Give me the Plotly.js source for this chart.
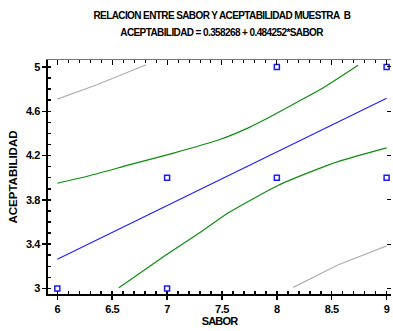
<!DOCTYPE html>
<html>
<head>
<meta charset="utf-8">
<script src="https://cdn.plot.ly/plotly-3.0.1.min.js"></script>
<style>
html,body{margin:0;padding:0;background:#fff}
#chart{width:393px;height:331px}
#chart .gtitle, #chart .annotation-text{letter-spacing:-0.6px}
#chart .xtick text, #chart .ytick text{letter-spacing:-0.5px}
#chart .xtitle{letter-spacing:-0.8px}
</style>
</head>
<body>
<div id="chart"></div>
<script>
// Observed data points
const saborPts = [6, 7, 7, 8, 8, 9, 9];
const acepPts  = [3, 3, 4, 4, 5, 5, 4];

const fitX = [6, 9];
const fitY = [3.264, 4.717];

// Confidence limits (green)
const confUpX = [6.0, 6.3, 6.67, 7.05, 7.48, 7.75, 7.94, 8.2, 8.42, 8.74];
const confUpY = [3.95, 4.02, 4.12, 4.22, 4.345, 4.455, 4.55, 4.69, 4.81, 5.015];
const confLoX = [6.56, 7.0, 7.3, 7.57, 8.01, 8.3, 8.57, 9.0];
const confLoY = [3.006, 3.31, 3.506, 3.69, 3.93, 4.05, 4.15, 4.27];

// Prediction limits (grey)
const predUpX = [6.0, 6.36, 6.81];
const predUpY = [4.71, 4.84, 5.02];
const predLoX = [8.15, 8.55, 9.0];
const predLoY = [3.01, 3.21, 3.385];

const xTicks = [6, 6.5, 7, 7.5, 8, 8.5, 9];
const yTicks = [3, 3.4, 3.8, 4.2, 4.6, 5];

const titleLine1 = 'RELACION ENTRE SABOR Y ACEPTABILIDAD MUESTRA\u00a0 B';
const titleLine2 = 'ACEPTABILIDAD = 0.358268 + 0.484252*SABOR';

const sans = 'Liberation Sans, Arial, sans-serif';
const XR = [5.915, 9.04], YR = [2.95, 5.063];

const lineTrace = (x, y, color, smooth) => ({x, y, type: 'scatter', mode: 'lines',
  line: smooth ? {color, width: 1.2, shape: 'spline', smoothing: 0.6} : {color, width: 1.2},
  hoverinfo: 'skip', showlegend: false});

const traces = [
  lineTrace(predUpX, predUpY, '#b0b0b0', false),
  lineTrace(predLoX, predLoY, '#b0b0b0', false),
  lineTrace(confUpX, confUpY, '#0e8c0e', true),
  lineTrace(confLoX, confLoY, '#0e8c0e', true),
  lineTrace(fitX, fitY, '#2020ff', false),
  {x: saborPts, y: acepPts, type: 'scatter', mode: 'markers', cliponaxis: false,
   marker: {symbol: 'square-open', size: 5, color: '#1a1aff', line: {width: 1.5}}, showlegend: false},
  {x: [6], y: [3], xaxis: 'x2', yaxis: 'y2', type: 'scatter', mode: 'markers', marker: {opacity: 0}, hoverinfo: 'skip', showlegend: false}
];

const layout = {
  width: 393, height: 331,
  margin: {l: 48, r: 2, t: 60, b: 37},
  paper_bgcolor: '#fff', plot_bgcolor: '#fff',
  font: {family: sans, color: '#000'},
  title: {text: '<b>' + titleLine1 + '</b>', font: {family: sans, size: 10, color: '#000'},
          x: 222/393, xanchor: 'center', xref: 'container', yref: 'container', y: 1 - 15/331, yanchor: 'middle'},
  annotations: [{text: '<b>' + titleLine2 + '</b>', xref: 'paper', yref: 'paper', x: (222-48)/343, y: 1 + 27/234,
                 xanchor: 'center', yanchor: 'middle', showarrow: false, font: {family: sans, size: 10, color: '#000'}}],
  xaxis: {range: XR, tickvals: xTicks, ticks: 'outside', ticklen: 4, tickwidth: 1.5, tickcolor: '#000',
          showline: true, linewidth: 2, linecolor: '#000', showgrid: false, zeroline: false,
          tickfont: {family: sans, size: 11, color: '#000', weight: 'bold'},
          minor: {dtick: 0.1, tick0: 6, ticks: 'inside', ticklen: 3, tickcolor: '#000', showgrid: false},
          title: {text: '<b>SABOR</b>', font: {family: sans, size: 11, color: '#000'}, standoff: 2}},
  yaxis: {range: YR, tickvals: yTicks, ticks: 'outside', ticklen: 4, tickwidth: 1.5, tickcolor: '#000',
          showline: true, linewidth: 2, linecolor: '#000', showgrid: false, zeroline: false,
          tickfont: {family: sans, size: 11, color: '#000', weight: 'bold'},
          minor: {dtick: 0.1, tick0: 3, ticks: 'inside', ticklen: 3, tickcolor: '#000', showgrid: false},
          title: {text: '<b>ACEPTABILIDAD</b>', font: {family: sans, size: 11.5, color: '#000'}, standoff: 4}},
  xaxis2: {overlaying: 'x', side: 'top', range: XR, tickvals: xTicks, ticks: 'inside', ticklen: 5, tickcolor: '#000',
           showline: true, linewidth: 1, linecolor: '#777', showticklabels: false, showgrid: false, zeroline: false,
           minor: {dtick: 0.1, tick0: 6, ticks: 'inside', ticklen: 3, tickcolor: '#000', showgrid: false}},
  yaxis2: {overlaying: 'y', side: 'right', range: YR, tickvals: yTicks, ticks: 'inside', ticklen: 4, tickcolor: '#000',
           showline: false, showticklabels: false, showgrid: false, zeroline: false}
};

Plotly.newPlot('chart', traces, layout, {displayModeBar: false, staticPlot: true});
</script>
</body>
</html>
